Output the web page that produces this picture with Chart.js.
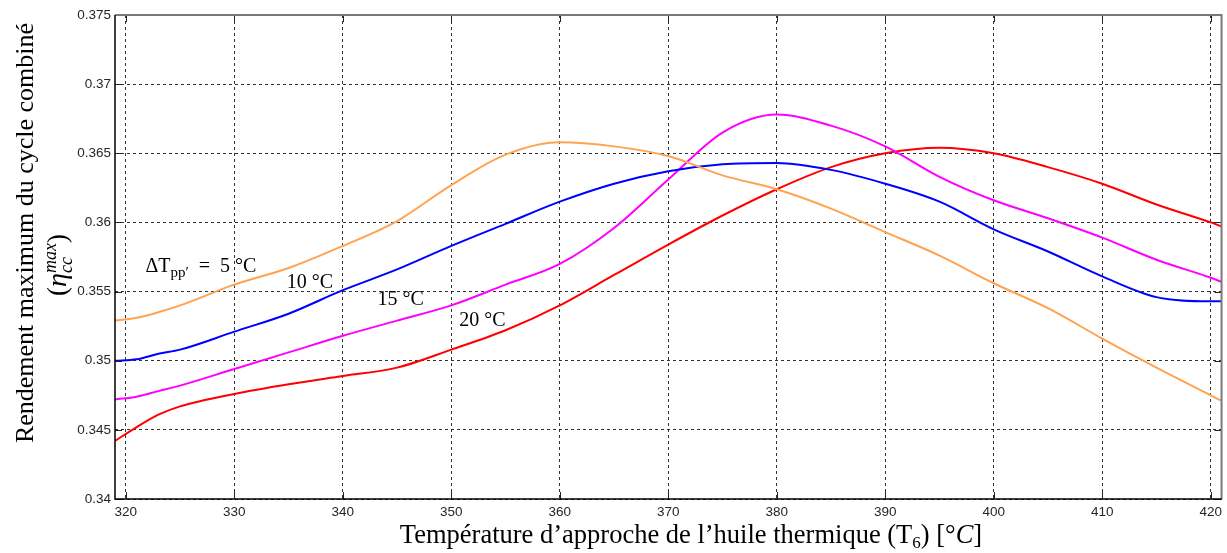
<!DOCTYPE html>
<html>
<head>
<meta charset="utf-8">
<title>Rendement maximum du cycle combiné</title>
<script src="https://cdn.jsdelivr.net/npm/chart.js@4.4.0/dist/chart.umd.min.js"></script>
<style>
  html, body { margin: 0; padding: 0; background: #fff; }
</style>
</head>
<body>
<canvas id="grafico-rendement" width="1227" height="553"></canvas>
<script>
// Température d'approche de l'huile thermique T6 (°C)
const temperatures = [319, 321, 323, 325, 330, 335, 340, 345, 350, 355, 360, 365, 370, 375, 380, 385, 390, 395, 400, 405, 410, 415, 420, 421];

// Rendement maximum du cycle combiné pour chaque pincement ΔTpp'
const rendement5 = [0.3529, 0.3531, 0.3535, 0.3540, 0.3555, 0.3567, 0.3583, 0.3601, 0.3627, 0.3649, 0.3658, 0.3655, 0.3648, 0.3634, 0.3624, 0.3610, 0.3593, 0.3576, 0.3556, 0.3538, 0.3516, 0.3495, 0.3475, 0.3471];
const rendement10 = [0.3500, 0.3501, 0.3505, 0.3508, 0.3521, 0.3534, 0.3551, 0.3566, 0.3583, 0.3599, 0.3615, 0.3628, 0.3637, 0.3642, 0.3643, 0.3638, 0.3628, 0.3615, 0.3595, 0.3579, 0.3561, 0.3546, 0.3543, 0.3543];
const rendement15 = [0.3472, 0.3474, 0.3478, 0.3482, 0.3494, 0.3506, 0.3518, 0.3529, 0.3540, 0.3555, 0.3570, 0.3596, 0.3631, 0.3665, 0.3678, 0.3670, 0.3655, 0.3633, 0.3616, 0.3603, 0.3589, 0.3573, 0.3560, 0.3557];
const rendement20 = [0.3442, 0.3452, 0.3461, 0.3467, 0.3476, 0.3483, 0.3489, 0.3495, 0.3508, 0.3522, 0.3540, 0.3562, 0.3584, 0.3605, 0.3624, 0.3640, 0.3650, 0.3654, 0.3650, 0.3640, 0.3628, 0.3613, 0.3600, 0.3597];

// Graduations des axes
const ticksX = [320, 330, 340, 350, 360, 370, 380, 390, 400, 410, 420];
const ticksY = [0.34, 0.345, 0.35, 0.355, 0.36, 0.365, 0.37, 0.375];

// Étiquettes des courbes
const etiquettes = ['\u2002=\u20025 °C', '10 °C', '15 °C', '20 °C'];
const positionsEtiquettes = [[321.8, 0.35642], [334.83, 0.35526], [343.2, 0.35403], [350.74, 0.35251]];

const SERIF = '"Liberation Serif", "Times New Roman", serif';
const SANS = '"Liberation Sans", Arial, sans-serif';

function serie(label, data, couleur) {
  return {
    label: label,
    data: temperatures.map((t, i) => ({ x: t, y: data[i] })),
    borderColor: couleur,
    backgroundColor: couleur,
    borderWidth: 2,
    pointRadius: 0,
    cubicInterpolationMode: 'monotone'
  };
}

// Dessine une suite de morceaux de texte (indices, exposants) à partir de x
function dessinerMorceaux(ctx, morceaux, x, y, centrer) {
  let total = 0;
  morceaux.forEach(m => {
    ctx.font = m.font;
    m.w = ctx.measureText(m.text).width;
    if (m.sous) {
      ctx.font = m.sous.font;
      m.w = Math.max(m.w, ctx.measureText(m.sous.text).width);
    }
    total += m.w;
  });
  let cx = centrer ? x - total / 2 : x;
  ctx.textAlign = 'left';
  ctx.textBaseline = 'alphabetic';
  morceaux.forEach(m => {
    ctx.font = m.font;
    ctx.fillText(m.text, cx, y + (m.dy || 0));
    if (m.sous) {
      ctx.font = m.sous.font;
      ctx.fillText(m.sous.text, cx, y + m.sous.dy);
    }
    cx += m.w;
  });
}

const cadreEtTextes = {
  id: 'cadreEtTextes',
  afterDatasetsDraw(chart) {
    const ctx = chart.ctx;
    const { left, right, top, bottom } = chart.chartArea;
    const sx = chart.scales.x;
    const sy = chart.scales.y;

    ctx.save();
    // graduations intérieures
    ctx.strokeStyle = '#222';
    ctx.lineWidth = 1;
    ctx.beginPath();
    ticksX.forEach(v => {
      const px = Math.round(sx.getPixelForValue(v)) + 0.5;
      ctx.moveTo(px, bottom); ctx.lineTo(px, bottom - 7);
      ctx.moveTo(px, top); ctx.lineTo(px, top + 7);
    });
    ticksY.forEach(v => {
      const py = Math.round(sy.getPixelForValue(v)) + 0.5;
      ctx.moveTo(left, py); ctx.lineTo(left + 7, py);
      ctx.moveTo(right, py); ctx.lineTo(right - 7, py);
    });
    ctx.stroke();

    // cadre : haut et droite en gris, gauche et bas en noir
    ctx.strokeStyle = '#7a7a7a';
    ctx.lineWidth = 2;
    ctx.beginPath();
    ctx.moveTo(left, top); ctx.lineTo(right, top); ctx.lineTo(right, bottom);
    ctx.stroke();
    ctx.strokeStyle = '#000';
    ctx.lineWidth = 1.5;
    ctx.beginPath();
    ctx.moveTo(left, top); ctx.lineTo(left, bottom); ctx.lineTo(right, bottom);
    ctx.stroke();

    // étiquettes des courbes
    ctx.fillStyle = '#000';
    etiquettes.forEach((txt, i) => {
      const px = sx.getPixelForValue(positionsEtiquettes[i][0]);
      const py = sy.getPixelForValue(positionsEtiquettes[i][1]);
      if (i === 0) {
        dessinerMorceaux(ctx, [
          { text: 'ΔT', font: '20px ' + SERIF },
          { text: 'pp′', font: '15px ' + SERIF, dy: 5 },
          { text: txt, font: '20px ' + SERIF }
        ], px, py, false);
      } else {
        dessinerMorceaux(ctx, [{ text: txt, font: '20px ' + SERIF }], px, py, false);
      }
    });
    ctx.restore();
  },
  afterDraw(chart) {
    const ctx = chart.ctx;
    ctx.save();
    ctx.fillStyle = '#000';

    // titre de l'axe horizontal
    dessinerMorceaux(ctx, [
      { text: 'Température d’approche de l’huile thermique (T', font: '26.5px ' + SERIF },
      { text: '6', font: '17px ' + SERIF, dy: 5 },
      { text: ') [°', font: '26.5px ' + SERIF },
      { text: 'C', font: 'italic 26.5px ' + SERIF },
      { text: ']', font: '26.5px ' + SERIF }
    ], 691, 543, true);

    // titre de l'axe vertical, sur deux lignes
    ctx.translate(33, 233);
    ctx.rotate(-Math.PI / 2);
    dessinerMorceaux(ctx, [{ text: 'Rendement maximum du cycle combiné', font: '26px ' + SERIF }], 0, 0, true);
    dessinerMorceaux(ctx, [
      { text: '(', font: '27px ' + SERIF },
      { text: 'η', font: 'italic 28px ' + SERIF },
      { text: 'max', font: 'italic 18px ' + SERIF, dy: -10, sous: { text: 'cc', font: 'italic 18px ' + SERIF, dy: 6 } },
      { text: ')', font: '27px ' + SERIF }
    ], -32, 33, true);
    ctx.restore();
  }
};

new Chart(document.getElementById('grafico-rendement'), {
  type: 'line',
  data: {
    datasets: [
      serie('ΔTpp\' = 5 °C', rendement5, '#ffa352'),
      serie('10 °C', rendement10, '#0000ff'),
      serie('15 °C', rendement15, '#ff00ff'),
      serie('20 °C', rendement20, '#ff0000')
    ]
  },
  options: {
    responsive: false,
    animation: false,
    devicePixelRatio: 1,
    layout: { padding: { top: 15, right: 3, left: 0, bottom: 0 } },
    plugins: {
      legend: { display: false },
      tooltip: { enabled: false }
    },
    scales: {
      x: {
        type: 'linear',
        min: 319,
        max: 421,
        afterBuildTicks: s => { s.ticks = ticksX.map(v => ({ value: v })); },
        afterFit: s => { s.height = 54; },
        ticks: {
          color: '#262626',
          font: { family: SANS, size: 13.5 },
          padding: 5,
          maxRotation: 0,
          autoSkip: false,
          callback: v => String(v)
        },
        grid: { color: 'rgba(0,0,0,0.8)', lineWidth: 1, drawTicks: false },
        border: { display: false, dash: [3, 3] }
      },
      y: {
        type: 'linear',
        min: 0.34,
        max: 0.375,
        afterBuildTicks: s => { s.ticks = ticksY.map(v => ({ value: v })); },
        afterFit: s => { s.width = 115; },
        ticks: {
          color: '#262626',
          font: { family: SANS, size: 13.5 },
          padding: 4,
          autoSkip: false,
          callback: v => Number(v.toFixed(3)).toString()
        },
        grid: { color: 'rgba(0,0,0,0.8)', lineWidth: 1, drawTicks: false },
        border: { display: false, dash: [3, 3] }
      }
    }
  },
  plugins: [cadreEtTextes]
});
</script>
</body>
</html>
